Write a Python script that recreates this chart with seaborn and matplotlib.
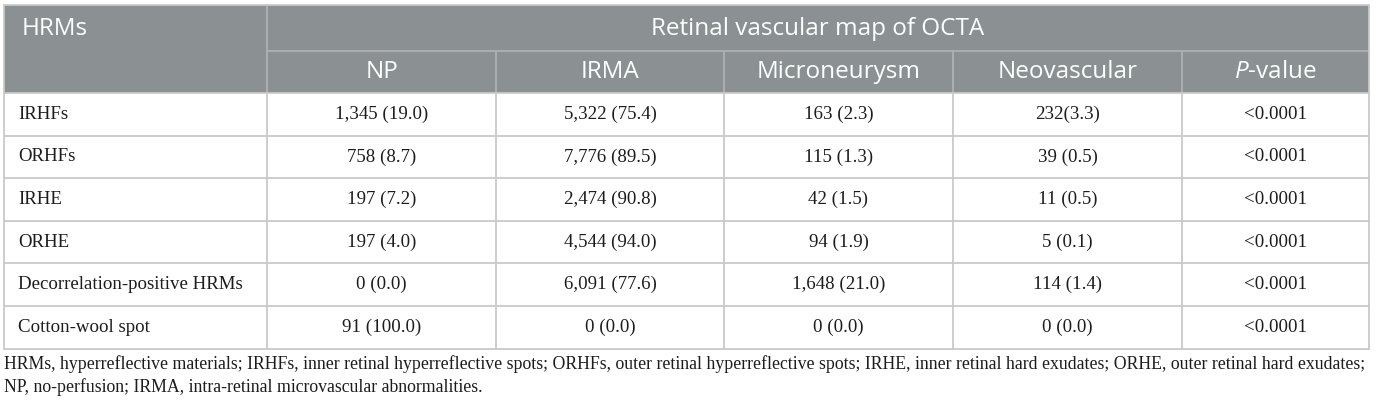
import matplotlib.pyplot as plt
import seaborn as sns

# table content
row_labels = ["IRHFs", "ORHFs", "IRHE", "ORHE", "Decorrelation-positive HRMs", "Cotton-wool spot"]
col_labels = ["NP", "IRMA", "Microneurysm", "Neovascular", r"$\it{P}$-value"]
np_vals = ["1,345 (19.0)", "758 (8.7)", "197 (7.2)", "197 (4.0)", "0 (0.0)", "91 (100.0)"]
irma_vals = ["5,322 (75.4)", "7,776 (89.5)", "2,474 (90.8)", "4,544 (94.0)", "6,091 (77.6)", "0 (0.0)"]
micro_vals = ["163 (2.3)", "115 (1.3)", "42 (1.5)", "94 (1.9)", "1,648 (21.0)", "0 (0.0)"]
neo_vals = ["232(3.3)", "39 (0.5)", "11 (0.5)", "5 (0.1)", "114 (1.4)", "0 (0.0)"]
p_vals = ["<0.0001"] * 6
footnote = ["HRMs, hyperreflective materials; IRHFs, inner retinal hyperreflective spots; ORHFs, outer retinal "
            "hyperreflective spots; IRHE, inner retinal hard exudates; ORHE, outer retinal hard exudates;",
            "NP, no-perfusion; IRMA, intra-retinal microvascular abnormalities."]

sns.set_theme(style="white")
plt.rcParams['mathtext.fontset'] = 'custom'
plt.rcParams['mathtext.it'] = 'Open Sans:italic'
plt.rcParams['mathtext.rm'] = 'Open Sans'

W, H = 1376, 407
fig = plt.figure(figsize=(W / 100, H / 100), dpi=100)
ax = fig.add_axes([0, 0, 1, 1])
ax.set_xlim(0, W)
ax.set_ylim(H, 0)
ax.axis("off")

# layout (pixels)
xs = [4, 267, 496, 724, 953, 1182, 1369]
top, mid, head_bot = 5, 51, 93
row_h = 42.6
bot = head_bot + row_h * len(row_labels)

header_bg = "#8b9092"
head_line = "#aeb2b4"
grid = "#c9c9c9"
ink = "#1c1c1c"

# header background
ax.add_patch(plt.Rectangle((xs[0], top), xs[-1] - xs[0], head_bot - top, color=header_bg, lw=0, zorder=0))
ax.plot([xs[1], xs[-1]], [mid, mid], color=head_line, lw=1.3)
ax.plot([xs[1], xs[1]], [top, head_bot], color=head_line, lw=1.3)
for x in xs[2:-1]:
    ax.plot([x, x], [mid, head_bot], color=head_line, lw=1.3)

head_font = dict(family="Open Sans", fontsize=17.5, color="white")
ax.text(22, 29, "HRMs", ha="left", va="center", **head_font)
ax.text((xs[1] + xs[-1]) / 2, 29, "Retinal vascular map of OCTA", ha="center", va="center", **head_font)
for j, lab in enumerate(col_labels):
    ax.text((xs[j + 1] + xs[j + 2]) / 2, 72, lab, ha="center", va="center", **head_font)

# body grid
for i in range(len(row_labels) + 1):
    y = head_bot + row_h * i
    ax.plot([xs[0], xs[-1]], [y, y], color=grid, lw=1.3)
for x in xs:
    ax.plot([x, x], [head_bot, bot], color=grid, lw=1.3)
ax.plot([xs[0], xs[-1]], [top, top], color=grid, lw=1.3)
ax.plot([xs[0], xs[0]], [top, head_bot], color=grid, lw=1.3)
ax.plot([xs[-1], xs[-1]], [top, head_bot], color=grid, lw=1.3)

body_font = dict(family="Liberation Serif", fontsize=13.6, color=ink)
columns = [np_vals, irma_vals, micro_vals, neo_vals, p_vals]
for i, lab in enumerate(row_labels):
    yc = head_bot + row_h * (i + 0.5)
    ax.text(18, yc, lab, ha="left", va="center", **body_font)
    for j, vals in enumerate(columns):
        ax.text((xs[j + 1] + xs[j + 2]) / 2, yc, vals[i], ha="center", va="center", **body_font)

foot_font = dict(family="Liberation Serif", fontsize=12.8, color=ink)
ax.text(4, 364, footnote[0], ha="left", va="center", **foot_font)
ax.text(4, 387, footnote[1], ha="left", va="center", **foot_font)

fig.savefig("out.png", dpi=100)
